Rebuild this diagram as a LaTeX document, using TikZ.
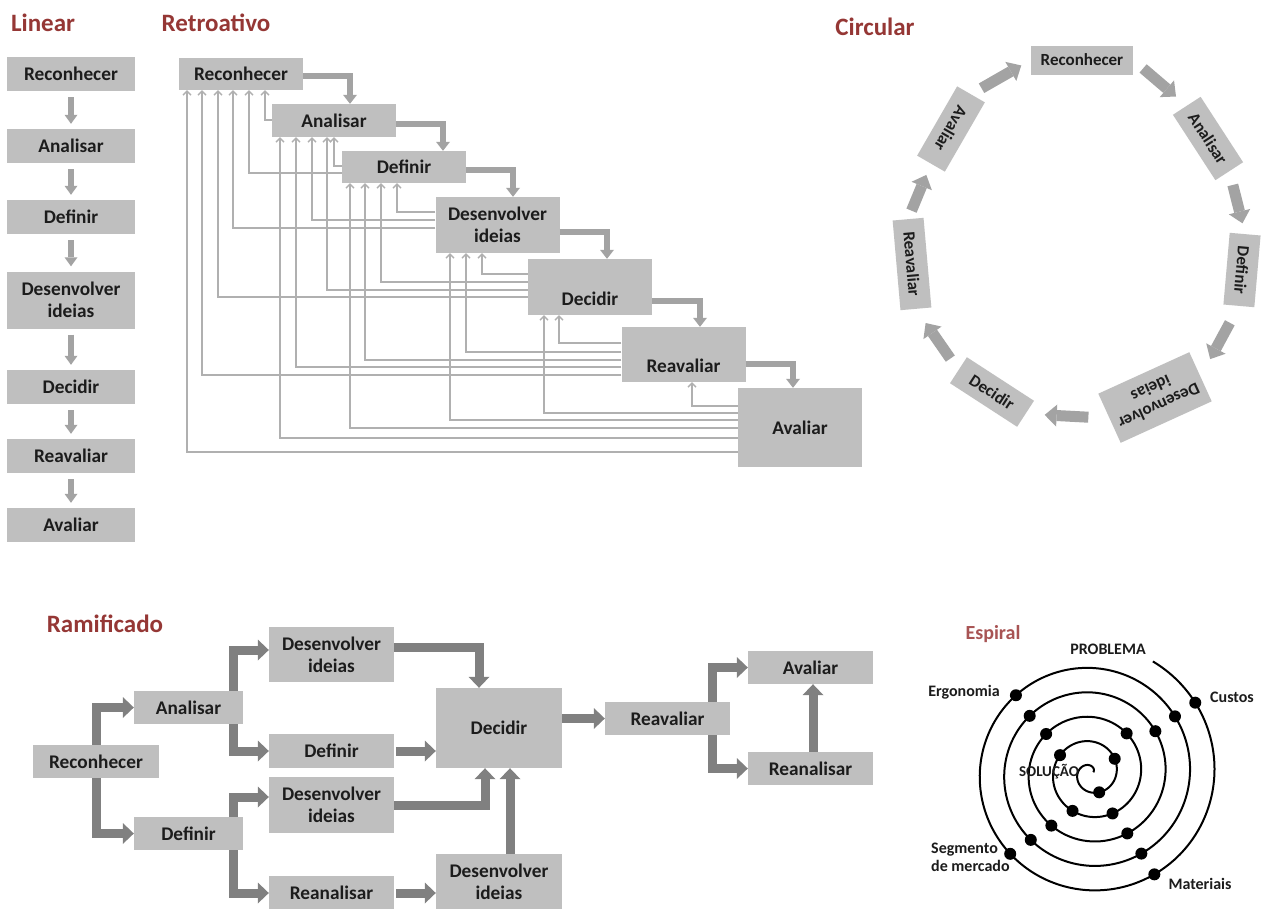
\documentclass[tikz,border=0pt]{standalone}
\usepackage{fontspec}
\setmainfont{Carlito}
\usetikzlibrary{arrows.meta}
\definecolor{boxgray}{RGB}{191,191,191}
\definecolor{arrgray}{RGB}{163,163,163}
\definecolor{fbgray}{RGB}{176,176,176}
\definecolor{darkarr}{RGB}{128,128,128}
\definecolor{titlered}{RGB}{149,55,53}
\definecolor{spiralred}{RGB}{168,84,84}
\definecolor{ink}{RGB}{28,28,28}
\begin{document}
\begin{tikzpicture}[x=1pt,y=-1pt,
  title/.style={text=titlered,inner sep=0pt,font=\bfseries\fontsize{25}{28}\selectfont},
  gbox/.style={fill=boxgray,text=ink,inner sep=0pt,align=center,font=\bfseries\fontsize{19.3}{22}\selectfont},
  cbox/.style={gbox,minimum height=31pt,font=\bfseries\fontsize{17}{19.5}\selectfont},
  lbl/.style={text=ink,inner sep=0pt,align=left,font=\bfseries\fontsize{16}{18}\selectfont},
  larr/.style={draw=arrgray,line width=6pt,-{Triangle[length=9pt,width=13pt,line width=0pt]}},
  rarr/.style={draw=arrgray,line width=6pt,-{Triangle[length=9pt,width=14pt,line width=0pt]}},
  fb/.style={draw=fbgray,line width=1.3pt,-{Straight Barb[length=4pt,width=8pt]}},
  carr/.style={draw=arrgray,line width=11pt,-{Triangle[length=12pt,width=22pt,line width=0pt]}},
  marr/.style={draw=darkarr,line width=9pt,-{Triangle[length=11pt,width=21pt,line width=0pt]}}]
\path[fill=white,use as bounding box] (0,0) rectangle (1264,908);

% titles
\node[title] (tLin) at (43,23) {Linear};
\node[title] (tRet) at (216,23) {Retroativo};
\node[title] (tCir) at (875,27) {Circular};
\node[title] (tRam) at (105,624) {Ramificado};
\node[title,text=spiralred,font=\bfseries\fontsize{20}{24}\selectfont] (tEsp) at (993,634) {Espiral};

% linear
\begin{scope}[every node/.append style={gbox,minimum width=128pt,minimum height=34pt}]
\node (lRec) at (71,74) {Reconhecer};
\node (lAna) at (71,146) {Analisar};
\node (lDef) at (71,217) {Definir};
\node[minimum height=57pt] (lDes) at (71,300) {Desenvolver\\ideias};
\node (lDec) at (71,387) {Decidir};
\node (lRea) at (71,456) {Reavaliar};
\node (lAva) at (71,525) {Avaliar};
\end{scope}
\foreach \a/\b in {lRec/lAna,lAna/lDef,lDef/lDes,lDes/lDec,lDec/lRea,lRea/lAva}
  \draw[larr] ([yshift=-6pt]\a.south) -- ([yshift=5pt]\b.north);

% retroativo
\begin{scope}[every node/.append style={gbox,minimum width=124pt}]
\node[minimum height=32pt] (rRec) at (241,74) {Reconhecer};
\node[minimum height=33pt] (rAna) at (334,120.5) {Analisar};
\node[minimum height=32pt] (rDef) at (404,167) {Definir};
\node[minimum height=56pt] (rDes) at (497.5,225) {Desenvolver\\ideias};
\node[minimum height=56pt,text height=38pt] (rDec) at (590,287) {Decidir};
\node[minimum height=55pt,text height=37pt] (rRea) at (683.5,354.5) {Reavaliar};
\node[minimum height=79pt] (rAva) at (800,427.5) {Avaliar};
\end{scope}
\foreach \a/\b/\dy/\dx in {rRec/rAna/2/16,rAna/rDef/3.5/39,rDef/rDes/3/15.5,rDes/rDec/7/17,rDec/rRea/14/16.5,rRea/rAva/9.5/-7}
  \draw[rarr] ([yshift=-\dy pt]\a.east) -| ([xshift=\dx pt]\b.north);
\foreach \t/\s/\x/\y in {rRec/rAna/265/120,rRec/rDef/249/173,rRec/rDes/233/228,rRec/rDec/218/297,rRec/rRea/202/375,rRec/rAva/187/452,
    rAna/rDef/334/166,rAna/rDes/312/220,rAna/rDec/327/290,rAna/rRea/296/367,rAna/rAva/280/438,
    rDef/rDes/397/212,rDef/rDec/381/282,rDef/rRea/365/360,rDef/rAva/350/428,
    rDes/rDec/482/274,rDes/rRea/466/352,rDes/rAva/450/420,
    rDec/rRea/559/343,rDec/rAva/544/413,
    rRea/rAva/692/406}
  \draw[fb] (\s.west |- 0,\y) -| (\x,0 |- \t.south);

% circular
\begin{scope}[every node/.append style={cbox}]
\node[minimum width=102pt,minimum height=29pt] (cRec) at (1082,60) {Reconhecer};
\node[minimum width=78pt,minimum height=33pt,rotate=-57] (cAna) at (1208,138.5) {Analisar};
\node[minimum width=72pt,rotate=-95] (cDef) at (1242,270) {Definir};
\node[minimum width=100pt,minimum height=54pt,rotate=204.5] (cDes) at (1155,397.5) {Desenvolver\\ideias};
\node[minimum width=80pt,minimum height=31pt,rotate=-33] (cDec) at (992,392) {Decidir};
\node[minimum width=90pt,rotate=-85] (cRea) at (912,264) {Reavaliar};
\node[minimum width=80pt,minimum height=32pt,rotate=-120] (cAva) at (951,129) {Avaliar};
\end{scope}
\draw[carr,shorten <=13pt,shorten >=14pt] (cRec.east) -- (cAna.west);
\draw[carr,shorten <=14pt,shorten >=11pt] (cAna.east) -- (cDef.west);
\draw[carr,shorten <=19pt,shorten >=20pt] (cDef.east) -- (cDes.west);
\draw[carr,shorten <=21pt,shorten >=19pt] (cDes.east) -- (cDec.east);
\draw[carr,shorten <=14pt,shorten >=17pt] (cDec.west) -- (cRea.east);
\draw[carr,shorten <=9pt,shorten >=12pt] (cRea.west) -- (cAva.east);
\draw[carr,shorten <=12pt,shorten >=11pt] (cAva.west) -- (cRec.west);

% espiral
\draw[line width=2pt] plot[domain=-61:1780,samples=500,smooth,variable=\t]
  ({1091+(123.45-0.068*\t)*cos(\t)},{773+(123.45-0.068*\t)*sin(\t)});
\foreach \t in {-34,58,135,226,326,418,492,583,687,779,847,941,1032,1142,1196,1290,1409,1507}
  \fill ({1091+(123.45-0.068*\t)*cos(\t)},{773+(123.45-0.068*\t)*sin(\t)}) circle[radius=6pt];
\node[lbl] (sPro) at (1108,649) {PROBLEMA};
\node[lbl] (sErg) at (964,692) {Ergonomia};
\node[lbl] (sCus) at (1232,697) {Custos};
\node[lbl,font=\bfseries\fontsize{15}{17}\selectfont] (sSol) at (1049,772) {SOLUÇÃO};
\node[lbl,anchor=west] (sSeg) at (931,857) {Segmento\\de mercado};
\node[lbl] (sMat) at (1200,884) {Materiais};

% ramificado
\begin{scope}[every node/.append style={gbox,minimum width=125pt,minimum height=33pt}]
\node[minimum width=126pt] (mRec) at (96,761.5) {Reconhecer};
\node[minimum width=109pt] (mAna) at (188.5,707.5) {Analisar};
\node[minimum width=109pt] (mDef) at (188.5,833.5) {Definir};
\node[minimum height=55pt] (mDesA) at (331.5,654.5) {Desenvolver\\ideias};
\node[minimum height=34pt] (mDefB) at (331.5,751) {Definir};
\node[minimum height=56pt] (mDesB) at (331.5,805) {Desenvolver\\ideias};
\node[minimum height=34pt] (mRenA) at (331.5,893) {Reanalisar};
\node[minimum width=126pt,minimum height=80pt] (mDec) at (499,728) {Decidir};
\node[minimum width=126pt,minimum height=56pt] (mDesC) at (499,882) {Desenvolver\\ideias};
\node (mRea) at (667.5,718.5) {Reavaliar};
\node (mAva) at (810.5,667.5) {Avaliar};
\node (mRenB) at (810.5,768.5) {Reanalisar};
\end{scope}
\draw[marr] (mRec.north) |- (mAna.west);
\draw[marr] (mRec.south) |- (mDef.west);
\draw[marr] ([xshift=45pt]mAna.north) |- ([yshift=4.5pt]mDesA.west);
\draw[marr] ([xshift=45pt]mAna.south) |- (mDefB.west);
\draw[marr] ([xshift=45pt]mDef.north) |- ([yshift=8pt]mDesB.west);
\draw[marr] ([xshift=45pt]mDef.south) |- (mRenA.west);
\draw[marr] ([yshift=7.5pt]mDesA.east) -| ([xshift=-20pt]mDec.north);
\draw[marr] ([xshift=2pt]mDefB.east) -- (mDec.west |- mDefB.east);
\draw[marr] (mDesB.east) -| ([xshift=-14pt]mDec.south);
\draw[marr] ([xshift=11pt]mDesC.north) -- ([xshift=11pt]mDec.south);
\draw[marr] ([xshift=2pt]mRenA.east) -- (mDesC.west |- mRenA.east);
\draw[marr] (mDec.east |- mRea.west) -- (mRea.west);
\draw[marr] ([xshift=44.5pt]mRea.north) |- (mAva.west);
\draw[marr] ([xshift=44.5pt]mRea.south) |- (mRenB.west);
\draw[marr] ([xshift=2.5pt]mRenB.north) -- ([xshift=2.5pt]mAva.south);
\end{tikzpicture}
\end{document}
